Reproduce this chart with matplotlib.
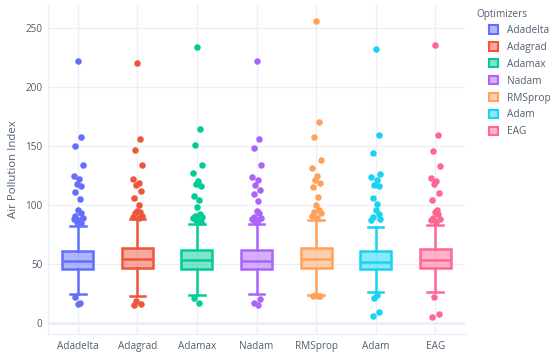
import matplotlib
matplotlib.use("Agg")
import matplotlib.pyplot as plt
from matplotlib.patches import Patch
import numpy as np

plt.rcParams['font.family'] = ['Open Sans', 'DejaVu Sans']

optimizers = ["Adadelta", "Adagrad", "Adamax", "Nadam", "RMSprop", "Adam", "EAG"]
colors = ["#636EFA", "#EF553B", "#00CC96", "#AB63FA", "#FFA15A", "#19D3F3", "#FF6692"]

q1 = [45.5, 46.9, 45.8, 45.5, 46.9, 45.5, 46.6]
median = [52.3, 54.5, 53.1, 52.3, 54.0, 51.7, 53.4]
q3 = [61.0, 63.8, 61.6, 61.6, 63.8, 61.3, 62.4]
whisker_low = [24.6, 22.9, 23.7, 24.6, 23.4, 26.3, 26.3]
whisker_high = [82.5, 87.9, 84.2, 84.2, 87.0, 81.6, 83.0]

outliers = [
    [222, 158, 150, 134, 125, 122, 118, 116, 111, 105, 96, 93, 91, 89, 88, 87, 86, 85, 22, 17, 16],
    [220, 156, 147, 134, 122, 119, 117, 112, 106, 100, 95, 94, 93, 91, 90, 89, 19, 16, 15],
    [234, 164, 151, 134, 127, 120, 118, 116, 108, 104, 98, 92, 91, 90, 89, 88, 87, 86, 21, 17],
    [222, 156, 148, 134, 124, 121, 117, 113, 109, 103, 95, 93, 90, 89, 88, 87, 86, 20, 17, 15],
    [256, 170, 158, 138, 131, 125, 121, 119, 115, 107, 100, 96, 94, 93, 91, 89, 24, 23, 23, 23],
    [232, 159, 144, 126, 124, 121, 117, 116, 106, 101, 96, 92, 90, 88, 87, 24, 21, 9, 6],
    [236, 159, 146, 133, 123, 120, 118, 110, 104, 96, 94, 92, 89, 88, 87, 86, 22, 8, 5],
]

fig = plt.figure(figsize=(5.5, 3.56), dpi=100)
ax = fig.add_axes([48/550, 1-334/356, (465-48)/550, (334-5)/356])

positions = np.arange(len(optimizers))
text_color = "#506070"

for i in range(len(optimizers)):
    c = colors[i]
    s = dict(med=median[i], q1=q1[i], q3=q3[i], whislo=whisker_low[i],
             whishi=whisker_high[i], fliers=[], label=optimizers[i])
    ax.bxp([s], positions=[positions[i]], widths=0.52, showfliers=False, patch_artist=True,
           capwidths=0.26,
           boxprops=dict(facecolor=matplotlib.colors.to_rgba(c, 0.5), edgecolor=c, linewidth=1.8),
           medianprops=dict(color=c, linewidth=1.8),
           whiskerprops=dict(color=c, linewidth=1.8),
           capprops=dict(color=c, linewidth=1.8), zorder=3)
    pts = np.array(outliers[i], dtype=float)
    pattern = np.array([0.0, 0.05, -0.04, 0.08, -0.07, 0.02, -0.02, 0.06, -0.05, 0.03])
    jit = pattern[np.arange(len(pts)) % len(pattern)]
    ax.scatter(positions[i] + jit, pts, s=22, color=c, zorder=4, linewidths=0)

ax.set_xlim(-0.5, len(optimizers) - 0.5)
ax.set_ylim(-9.3, 269.5)
ax.set_xticks(positions)
ax.set_xticklabels(optimizers)
ax.set_yticks([0, 50, 100, 150, 200, 250])
ax.tick_params(axis='both', length=0, labelsize=7.2, colors=text_color)
ax.tick_params(axis='y', pad=4)
ax.tick_params(axis='x', pad=5)
ax.grid(True, color="#EBF0F8", linewidth=1, zorder=0)
ax.set_axisbelow(True)
ax.axhline(0, color="#EBF0F8", linewidth=2, zorder=1)
for side in ["top", "right"]:
    ax.spines[side].set_visible(False)
for side in ["left", "bottom"]:
    ax.spines[side].set_color("#EBF0F8")
    ax.spines[side].set_linewidth(1)
ax.set_ylabel("Air Pollution Index", fontsize=8.2, color=text_color)
ax.yaxis.set_label_coords(-(48 - 19) / 417, 0.5)

fig.text(476/550, 1 - 15/356, "Optimizers", fontsize=7.2, color=text_color,
         ha="left", va="center")
handles = [Patch(facecolor=matplotlib.colors.to_rgba(c, 0.5), edgecolor=c, linewidth=1.5)
           for c in colors]
leg = fig.legend(handles, optimizers, loc="upper left",
                 bbox_to_anchor=(489/550, 1 - 25/356), frameon=False, fontsize=7.3,
                 handlelength=0.9, handleheight=0.9, handletextpad=0.9,
                 labelspacing=0.58, borderaxespad=0, borderpad=0)
for t in leg.get_texts():
    t.set_color(text_color)

fig.savefig("out.png", dpi=100, facecolor="white")
